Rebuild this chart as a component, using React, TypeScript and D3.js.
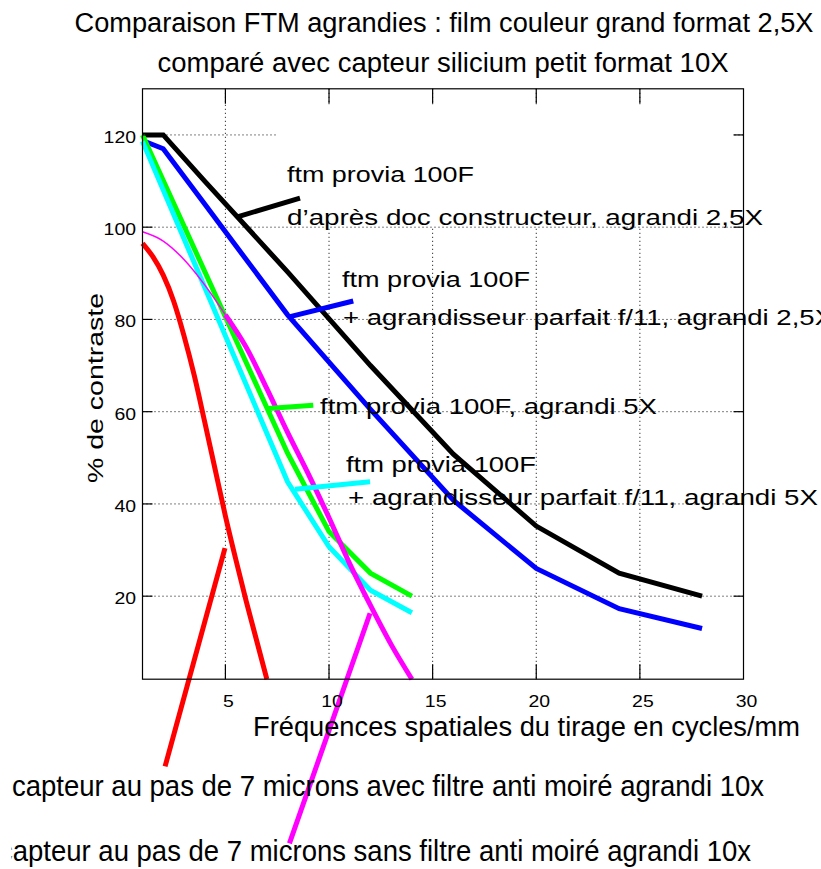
import React from 'react';
import * as d3 from 'd3';

const W = 821;
const H = 869;
const FONT = '"Liberation Sans", Arial, Helvetica, sans-serif';

// axis ticks
const xTicks = [5, 10, 15, 20, 25, 30];
const yTicks = [20, 40, 60, 80, 100, 120];

// ftm provia 100F, doc constructeur 2,5X (black)
const blackX = [1, 2, 4, 8, 12, 16, 20, 24, 28];
const blackY = [120, 120, 110, 90.3, 70, 50.8, 35.2, 25, 20];

// provia + agrandisseur f/11, 2,5X (blue)
const blueX = [1, 2, 4, 8, 12, 16, 20, 24, 28];
const blueY = [118.8, 117, 105, 81, 60.5, 40.8, 26, 17.3, 13];

// provia 5X (green)
const greenX = [1, 8, 10, 12, 14];
const greenY = [120, 51, 34, 25, 20];

// provia + agrandisseur f/11, 5X (cyan)
const cyanX = [1, 8, 10, 12, 14];
const cyanY = [118.6, 44.8, 30.7, 21.3, 16.4];

// capteur sans filtre (magenta), thin start then thick
const magentaThinX = [1, 2, 3, 4, 5];
const magentaThinY = [99, 97, 93, 87.5, 81];
const magentaX = [5, 6, 7, 8, 9, 10, 11, 12, 13, 14];
const magentaY = [81, 74, 65, 55.5, 46.5, 37, 27, 18, 9.5, 2];

// capteur avec filtre (red)
const redX = [1, 1.5, 2, 2.5, 3, 3.5, 4, 4.5, 5, 5.5, 6, 6.5, 7];
const redY = [96.5, 93.6, 89.6, 84, 76.5, 67.8, 57.8, 47.6, 37.4, 28, 19, 10.5, 2];

// annotation leader lines (data units)
const leaderX0 = [5.62, 8.12, 7.07, 8.36, 4.98, 11.98];
const leaderY0 = [102.3, 80.6, 60.7, 43.2, 30.4, 16.3];
const leaderX1 = [8.6, 11.17, 9.24, 11.98, 2.09, 8.09];
const leaderY1 = [106.3, 84.0, 61.4, 44.8, -16.9, -33.6];
const leaderColors = ['#000000', '#0000ff', '#00ff00', '#00ffff', '#ff0000', '#ff00ff'];

const x = d3.scaleLinear().domain([1, 30]).range([142.5, 743.5]);
const y = d3.scaleLinear().domain([2, 130]).range([679.2, 88.8]);

function pathFor(xs: number[], ys: number[], curve: d3.CurveFactory = d3.curveLinear) {
  return (
    d3
      .line<number>()
      .x((i) => x(xs[i]))
      .y((i) => y(ys[i]))
      .curve(curve)(xs.map((_, i) => i)) || ''
  );
}

function Label(props: { x: number; y: number; size: number; len: number; text: string; anchor?: string; transform?: string; clip?: string }) {
  return (
    <text
      x={props.x}
      y={props.y}
      fontSize={props.size}
      textLength={props.len}
      lengthAdjust="spacingAndGlyphs"
      textAnchor={props.anchor || 'start'}
      transform={props.transform}
      clipPath={props.clip}
      fill="#000"
    >
      {props.text}
    </text>
  );
}

export default function App() {
  const [x0, x1] = x.range();
  const [y0, y1] = y.range();
  const gridX = xTicks.filter((t) => t < 30);

  return (
    <div style={{ position: 'absolute', left: 0, top: 0 }}>
      <svg width={W} height={H} style={{ display: 'block', background: '#fff' }} fontFamily={FONT}>
        <defs>
          <clipPath id="cutLeft">
            <rect x={11.5} y={0} width={W} height={H} />
          </clipPath>
        </defs>
        <rect x={0} y={0} width={W} height={H} fill="#fff" />

        {/* grid */}
        <g stroke="#000" strokeWidth={1} strokeDasharray="1,3" fill="none">
          {gridX.map((t) => (
            <line key={'gx' + t} x1={x(t)} x2={x(t)} y1={y1} y2={y0} />
          ))}
          {yTicks.map((t) => (
            <line key={'gy' + t} x1={x0} x2={x1} y1={y(t)} y2={y(t)} />
          ))}
        </g>
        {/* white patch hiding grid behind the first annotation */}
        <rect x={277} y={105} width={455} height={121} fill="#fff" />

        {/* curves */}
        <g fill="none" strokeWidth={5}>
          <path d={pathFor(blackX, blackY)} stroke="#000000" />
          <path d={pathFor(blueX, blueY)} stroke="#0000ff" />
          <path d={pathFor(greenX, greenY)} stroke="#00ff00" />
          <path d={pathFor(cyanX, cyanY)} stroke="#00ffff" />
          <path d={pathFor(magentaThinX, magentaThinY, d3.curveMonotoneX)} stroke="#ff00ff" strokeWidth={1.5} />
          <path d={pathFor(magentaX, magentaY, d3.curveMonotoneX)} stroke="#ff00ff" />
          <path d={pathFor(redX, redY, d3.curveMonotoneX)} stroke="#ff0000" />
        </g>

        {/* leaders */}
        <g strokeWidth={5}>
          {leaderX0.map((_, i) => (
            <line
              key={'l' + i}
              x1={x(leaderX0[i])}
              y1={y(leaderY0[i])}
              x2={x(leaderX1[i])}
              y2={y(leaderY1[i])}
              stroke={leaderColors[i]}
            />
          ))}
        </g>

        {/* frame and ticks */}
        <g stroke="#000" strokeWidth={1.2} fill="none">
          <rect x={x0} y={y1} width={x1 - x0} height={y0 - y1} />
          {gridX.map((t) => (
            <g key={'tx' + t}>
              <line x1={x(t)} x2={x(t)} y1={y0} y2={y0 - 15} />
              <line x1={x(t)} x2={x(t)} y1={y1} y2={y1 + 15} />
            </g>
          ))}
          {yTicks.map((t) => (
            <g key={'ty' + t}>
              <line x1={x0} x2={x0 + 10} y1={y(t)} y2={y(t)} />
              <line x1={x1} x2={x1 - 10} y1={y(t)} y2={y(t)} />
            </g>
          ))}
        </g>

        {/* tick labels */}
        <g>
          {xTicks.map((t) => (
            <Label key={'lx' + t} x={x(t) + 3} y={707} size={16} len={String(t).length * 10.8} anchor="middle" text={String(t)} />
          ))}
          {yTicks.map((t) => (
            <Label key={'ly' + t} x={136} y={y(t) + 8} size={16} len={String(t).length * 10.8} anchor="end" text={String(t)} />
          ))}
        </g>

        {/* titles */}
        <Label x={444} y={32} size={27} len={739} anchor="middle" text="Comparaison FTM agrandies : film couleur grand format 2,5X" />
        <Label x={443} y={72} size={27} len={571} anchor="middle" text="comparé avec capteur silicium petit format 10X" />
        <Label x={253} y={736} size={27} len={547} text="Fréquences spatiales du tirage en cycles/mm" />
        <Label x={103} y={388} size={22} len={190} anchor="middle" transform="rotate(-90 103 388)" text="% de contraste" />

        {/* annotations */}
        <Label x={287} y={182} size={22.5} len={187} text="ftm provia 100F" />
        <Label x={287} y={225} size={22.5} len={476} text="d’après doc constructeur, agrandi 2,5X" />
        <Label x={342} y={287} size={22.5} len={188} text="ftm provia 100F" />
        <Label x={343} y={325} size={22.5} len={490} text="+ agrandisseur parfait f/11, agrandi 2,5X" />
        <Label x={320} y={414} size={22.5} len={337} text="ftm provia 100F, agrandi 5X" />
        <Label x={346} y={472} size={22.5} len={190} text="ftm provia 100F" />
        <Label x={348} y={505} size={22.5} len={470} text="+ agrandisseur parfait f/11, agrandi 5X" />

        {/* sensor captions */}
        <Label x={12} y={796} size={29} len={752} text="capteur au pas de 7 microns avec filtre anti moiré agrandi 10x" />
        <Label x={-1} y={861} size={29} len={752} clip="url(#cutLeft)" text="capteur au pas de 7 microns sans filtre anti moiré agrandi 10x" />
      </svg>
    </div>
  );
}
